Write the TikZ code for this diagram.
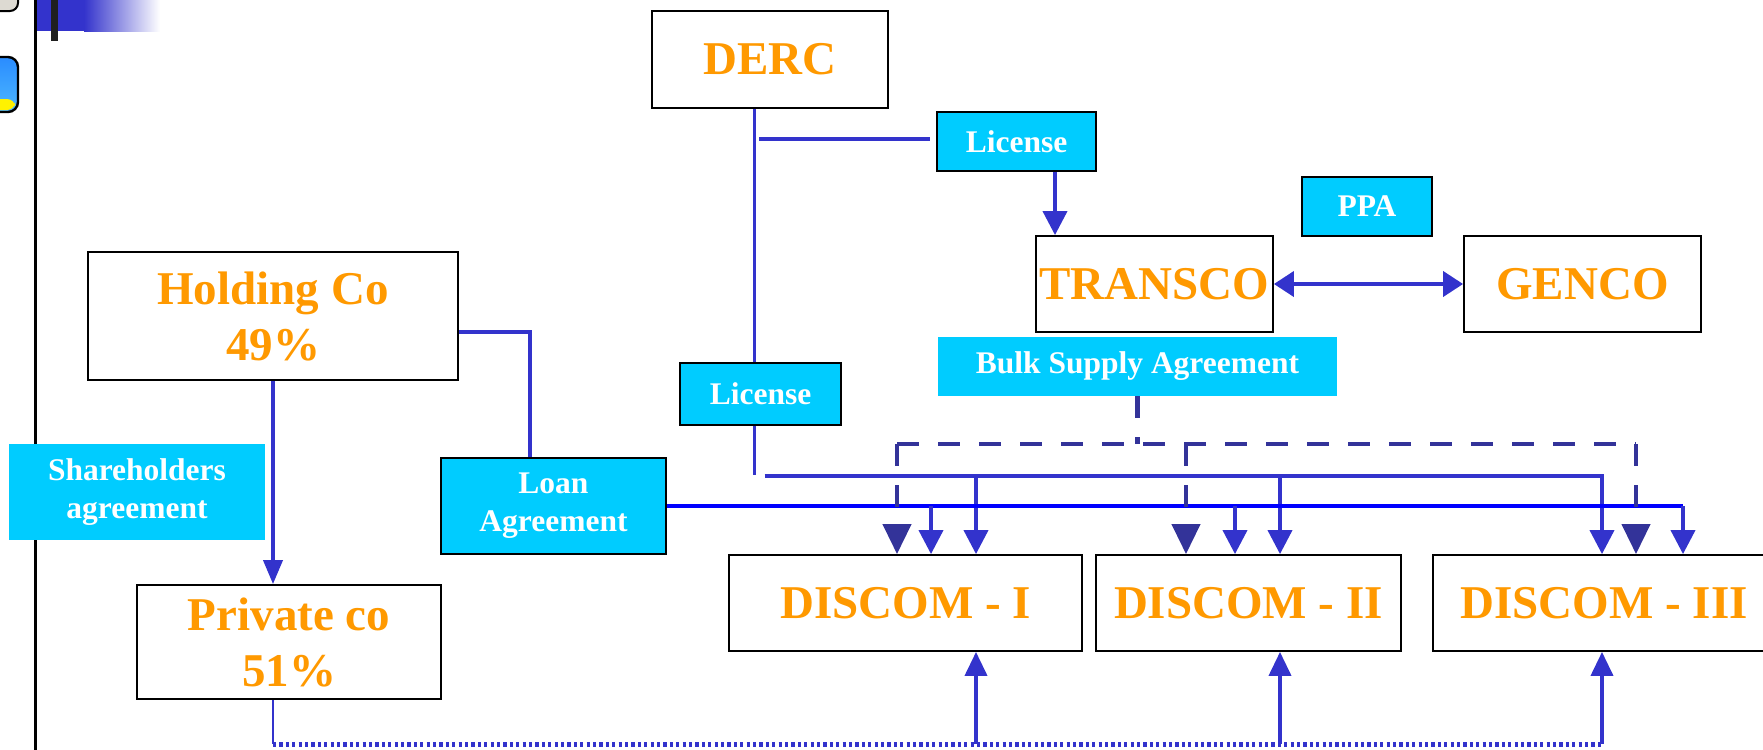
\documentclass[tikz,border=0pt]{standalone}
\usepackage{fontspec}
\setmainfont{Liberation Serif}
\usetikzlibrary{arrows.meta,backgrounds}
\definecolor{org}{HTML}{FF9900}
\definecolor{cyn}{HTML}{00CCFF}
\definecolor{lnb}{HTML}{3333CC}
\definecolor{dkb}{HTML}{333399}
\definecolor{brb}{HTML}{0000FF}
\definecolor{icongray}{HTML}{DDDAD2}
\definecolor{iconblue}{HTML}{2A8CFF}
\begin{document}
\begin{tikzpicture}[x=0.5pt,y=-0.5pt,
  ent/.style={draw=black,line width=0.9pt,fill=white,inner sep=0pt,text=org,
    font=\fontsize{23.5}{28}\selectfont\bfseries,align=center},
  lab/.style={fill=cyn,inner sep=0pt,text=white,
    font=\fontsize{15.75}{19}\selectfont\bfseries,align=center},
  labb/.style={lab,draw=black,line width=0.9pt},
  ln/.style={draw=lnb,line width=1.9pt},
  dk/.style={draw=dkb,line width=2.1pt,dash pattern=on 11pt off 9.5pt},
  tip/.style={-{Triangle[width=12pt,length=12pt]}},
  dtip/.style={-{Triangle[width=14pt,length=15pt]}},
]
\useasboundingbox (0,0) rectangle (1763,750);
\clip (0,0) rectangle (1763,750);

% ---------- nodes ----------
\node[ent,minimum width=118pt,minimum height=48.5pt] (derc) at (770,59.5) {DERC};
\node[labb,minimum width=79.5pt,minimum height=29.5pt] (lic1) at (1016.5,141.5) {License};
\node[ent,minimum width=118.5pt,minimum height=48pt] (trans) at (1154.5,284) {TRANSCO};
\node[ent,minimum width=118.5pt,minimum height=48pt] (genco) at (1582.5,284) {GENCO};
\node[labb,minimum width=65pt,minimum height=29.5pt] (ppa) at (1367,206.5) {PPA};
\node[lab,minimum width=199.5pt,minimum height=29.5pt] (bulk) at (1137.5,366.5) {Bulk Supply Agreement};
\node[labb,minimum width=80.5pt,minimum height=31pt] (lic2) at (760.5,394) {License};
\node[ent,minimum width=185pt,minimum height=64pt] (hold) at (273,316) {Holding Co\\49\%};
\node[labb,minimum width=112.5pt,minimum height=48pt] (loan) at (553.5,506) {Loan\\Agreement};
\node[lab,minimum width=128pt,minimum height=48pt] (share) at (137,492) {Shareholders\\agreement};
\node[ent,minimum width=152pt,minimum height=57pt] (priv) at (289,642) {Private co\\51\%};
\node[ent,minimum width=176.5pt,minimum height=48pt] (d1) at (905.5,603) {DISCOM - I};
\node[ent,minimum width=152.5pt,minimum height=48pt] (d2) at (1248.5,603) {DISCOM - II};
\node[ent,minimum width=171pt,minimum height=48pt] (d3) at (1604,603) {DISCOM - III};

% ---------- helper coordinates ----------
\coordinate (lv) at (754.5,474.5);
\coordinate (dh) at (759,139.4);
\coordinate (xl1) at (1055,0);
\coordinate (uh) at (764.6,475.6);
\coordinate (yD) at (0,444);
\coordinate (yB) at (0,744.4);
\coordinate (hl) at (529.6,331.7);
\coordinate (xa1) at (897,0);
\coordinate (xb1) at (931,0);
\coordinate (xc1) at (976,0);
\coordinate (xa2) at (1186,0);
\coordinate (xb2) at (1235,0);
\coordinate (xc2) at (1280,0);
\coordinate (xc3) at (1602,0);
\coordinate (xa3) at (1636,0);
\coordinate (xb3) at (1683,0);

\begin{pgfonlayer}{background}
% page decorations
\fill[black] (34,0) rectangle (36.5,750);
\fill[lnb] (36.5,0) rectangle (84,31);
\shade[left color=lnb,right color=white] (84,0) rectangle (160,31);
\fill[black!88] (51,0) rectangle (58,41);
\filldraw[fill=icongray,draw=black,line width=1pt,rounded corners=4pt] (-12,-20) rectangle (18,11);
\shade[top color=iconblue,bottom color=cyan!60!blue!70,rounded corners=5pt] (-12,57) rectangle (18,112);
\fill[yellow,rounded corners=4pt] (-12,99) rectangle (15,110);
\draw[black,line width=1.2pt,rounded corners=5pt] (-12,57) rectangle (18,112);

% DERC licensing lines
\draw[lnb,line width=1.3pt] (derc.south -| lv) -- (lv);
\draw[ln,line width=2pt,shorten >=3pt] (dh) -- (dh -| lic1.west);
\draw[ln,tip] (lic1.south -| xl1) -- (trans.north -| xl1);
\draw[ln,{Triangle[width=12.5pt,length=10pt]}-{Triangle[width=12.5pt,length=10pt]}] (trans.east) -- (genco.west);

% license line to DISCOMs
\draw[ln,tip] (uh) -| (d3.north -| xc3);
\draw[ln,tip] (xc1 |- uh) -- (d1.north -| xc1);
\draw[ln,tip] (xc2 |- uh) -- (d2.north -| xc2);

% loan line to DISCOMs
\draw[brb,line width=2.1pt] (loan.east) -- (loan.east -| xb3);
\draw[ln,tip] (loan.east -| xb3) -- (d3.north -| xb3);
\draw[ln,tip] (loan.east -| xb1) -- (d1.north -| xb1);
\draw[ln,tip] (loan.east -| xb2) -- (d2.north -| xb2);

% bulk supply (dashed)
\draw[dk] (bulk.south) -- (bulk.south |- yD);
\draw[dk] (xa1 |- yD) -- (xa3 |- yD);
\draw[dk,dtip] (xa1 |- yD) -- (d1.north -| xa1);
\draw[dk,dtip] (xa2 |- yD) -- (d2.north -| xa2);
\draw[dk,dtip] (xa3 |- yD) -- (d3.north -| xa3);

% holding / private
\draw[ln] (hold.east |- hl) -| (loan.north -| hl);
\draw[ln,-{Triangle[width=9.5pt,length=12pt]}] (hold.south) -- (hold.south |- priv.north);
\draw[lnb,line width=1.2pt] (hold.south |- priv.south) -- (hold.south |- yB);
\draw[lnb,line width=2.2pt,dash pattern=on 1.6pt off 1.6pt] (hold.south |- yB) -- (xc3 |- yB);
\draw[ln,-{Triangle[width=11pt,length=12pt]}] (xc1 |- yB) -- (d1.south -| xc1);
\draw[ln,-{Triangle[width=11pt,length=12pt]}] (xc2 |- yB) -- (d2.south -| xc2);
\draw[ln,-{Triangle[width=11pt,length=12pt]}] (xc3 |- yB) -- (d3.south -| xc3);
\end{pgfonlayer}
\end{tikzpicture}
\end{document}
